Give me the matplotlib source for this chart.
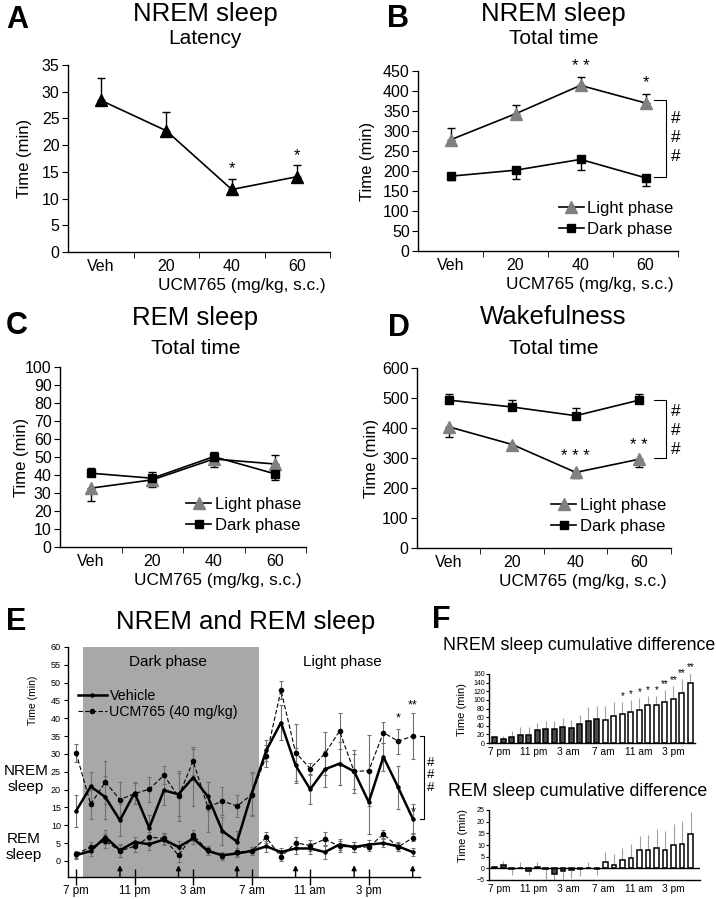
import numpy as np
import matplotlib
matplotlib.use('Agg')
import matplotlib.pyplot as plt

plt.rcParams['font.family'] = ['Liberation Sans', 'DejaVu Sans']
plt.rcParams['axes.linewidth'] = 1.0

W, H = 716, 899

# ---------------- data ----------------
doses = ['Veh', '20', '40', '60']

lat_mean = [28.4, 22.7, 11.7, 14.1]
lat_up = [4.2, 3.5, 2.0, 2.2]

nrem_light = [278, 343, 414, 370]
nrem_light_up = [30, 23, 21, 22]
nrem_dark = [187, 202, 229, 183]
nrem_dark_dn = [10, 23, 27, 21]

rem_light = [32.7, 37.3, 48.9, 46.1]
rem_light_dn = [7.4, 3.7, 4.3, 0]
rem_light_up = [0, 0, 0, 5.0]
rem_dark = [41.0, 38.2, 50.2, 40.6]
rem_dark_dn = [0, 0, 0, 3.3]
rem_dark_up = [3.1, 3.3, 2.8, 0]

wake_light = [404, 345, 252, 296]
wake_light_dn = [33, 16, 17, 25]
wake_dark = [493, 470, 441, 493]
wake_dark_up = [20, 23, 27, 22]

hour_labels = ['7 pm', '11 pm', '3 am', '7 am', '11 am', '3 pm']
injection_idx = [3, 7, 11, 15, 19, 23]

veh_nrem = [14.0, 20.9, 17.9, 11.4, 19.1, 9.3, 19.8, 18.7, 23.4, 18.1, 8.4, 5.4,
            18.9, 31.0, 38.8, 26.8, 20.1, 25.7, 27.3, 25.1, 16.5, 29.2, 20.7, 11.9]
veh_nrem_err = [4.5, 4, 6, 4.5, 3, 3.5, 4, 6, 8, 4, 4, 3,
                6, 3, 5, 5, 4, 5, 6, 6, 9, 4, 6, 4]
ucm_nrem = [30.3, 15.9, 22.1, 17.2, 18.9, 20.1, 24.0, 18.1, 28.0, 15.1, 16.8, 15.4,
            18.6, 29.4, 47.9, 30.4, 25.9, 30.1, 36.4, 25.1, 25.3, 36.0, 33.6, 35.0]
ucm_nrem_err = [2.5, 4, 6, 5, 3, 3.5, 2.5, 7, 4, 7, 4, 3,
                6, 3, 2.5, 8, 1.5, 6, 5, 5, 10, 3, 3.5, 6.5]
veh_rem = [1.6, 2.8, 6.7, 3.0, 5.3, 4.7, 6.0, 3.9, 6.3, 2.8, 1.6, 2.1,
           2.8, 4.1, 2.5, 3.5, 3.5, 2.5, 4.6, 3.9, 4.6, 5.0, 4.1, 2.5]
ucm_rem = [1.9, 3.9, 5.6, 2.8, 4.1, 6.7, 6.3, 1.6, 7.2, 3.0, 1.3, 2.5,
           2.8, 6.6, 1.1, 5.1, 4.3, 6.1, 4.1, 3.9, 3.9, 7.5, 3.9, 6.5]
rem_err = [1.0, 1.5, 2.0, 1.8, 1.5, 1.5, 1.5, 1.8, 1.5, 1.2, 1.0, 1.0,
           1.0, 1.5, 1.0, 1.5, 1.5, 2.0, 1.5, 1.5, 1.2, 1.2, 1.2, 1.0]

nrem_cum = [14, 9, 14, 19, 19, 29, 33, 33, 37, 34, 43, 52,
            55, 54, 62, 67, 72, 76, 87, 87, 96, 102, 115, 140]
nrem_cum_top = [17, 17, 27, 36, 37, 46, 52, 52, 58, 54, 65, 83,
                86, 86, 94, 95, 100, 104, 108, 108, 122, 132, 148, 162]
nrem_stars = ['', '', '', '', '', '', '', '', '', '', '', '',
              '', '', '', '*', '*', '*', '*', '*', '**', '**', '**', '**']
rem_cum = [0.4, 1.4, -0.2, 0.1, -1.3, 0.4, -0.3, -2.3, -1.2, -0.9, -0.5, 0.2,
           -0.4, 2.8, 1.3, 3.4, 4.6, 7.8, 7.7, 8.6, 7.9, 10.2, 10.4, 14.7]
rem_cum_err = [0.6, 1.6, 2.8, 2.4, 1.7, 2.4, 4.2, 3.2, 3.3, 3.1, 3.0, 2.5,
               2.6, 4.0, 4.7, 5.1, 5.9, 6.0, 6.5, 8.1, 7.9, 8.8, 9.9, 9.3]
n_dark_bars = 13

LIGHT = '#808080'

fig = plt.figure(figsize=(W / 100, H / 100), dpi=100)


def box(l, t, r, b):
    return fig.add_axes([l / W, 1 - b / H, (r - l) / W, (b - t) / H])


def ftext(x, y, s, **kw):
    fig.text(x / W, 1 - y / H, s, **kw)


def dose_axes(ax, ymax, ystep, ylab_px):
    ax.set_xlim(-0.5, 3.5)
    ax.set_ylim(0, ymax)
    ax.set_yticks(np.arange(0, ymax + 1, ystep))
    ax.set_xticks(range(4))
    ax.set_xticklabels(doses)
    ax.set_xticks([0.5, 1.5, 2.5, 3.5], minor=True)
    ax.tick_params(axis='x', which='major', length=0, labelsize=11.5, pad=5)
    ax.tick_params(axis='x', which='minor', length=4, direction='out')
    ax.tick_params(axis='y', length=4, labelsize=11.5, pad=2)
    for s in ['top', 'right']:
        ax.spines[s].set_visible(False)
    ax.annotate('UCM765 (mg/kg, s.c.)', xy=(1, 0), xycoords='axes fraction',
                xytext=(-3, -24), textcoords='offset points', ha='right', va='center',
                fontsize=12.4)
    ax.set_ylabel('Time (min)', fontsize=12)
    w = ax.get_position().width * W
    ax.yaxis.set_label_coords(-ylab_px / w, 0.5)


def two_lines(ax, light, l_dn, l_up, dark, d_dn, d_up):
    ax.errorbar(range(4), light, yerr=[l_dn, l_up], fmt='none', ecolor='k',
                elinewidth=1, capsize=3, capthick=1)
    ax.errorbar(range(4), dark, yerr=[d_dn, d_up], fmt='none', ecolor='k',
                elinewidth=1, capsize=3, capthick=1)
    ax.plot(range(4), light, '-', color='k', lw=1.2, marker='^', ms=9,
            mfc=LIGHT, mec=LIGHT, label='Light phase')
    ax.plot(range(4), dark, '-', color='k', lw=1.2, marker='s', ms=6,
            mfc='k', mec='k', label='Dark phase')
    ax.legend(loc='lower right', frameon=False, fontsize=12, handlelength=1.5,
              handletextpad=0.2, labelspacing=0.37, borderaxespad=0.2,
              bbox_to_anchor=(1.02, 0.022))


def bracket(ax, x0, x1, y0, y1, hx, hys):
    ax.plot([x0, x1, x1, x0], [y0, y0, y1, y1], color='k', lw=0.8, clip_on=False)
    for hy in hys:
        ax.text(hx, hy, '#', ha='center', va='center', fontsize=12.5, clip_on=False)


# ---------------- A ----------------
axA = box(68, 65, 330, 252)
axA.errorbar(range(4), lat_mean, yerr=[[0] * 4, lat_up], fmt='none', ecolor='k',
             elinewidth=1, capsize=3, capthick=1)
axA.plot(range(4), lat_mean, '-', color='k', lw=1.2, marker='^', ms=9)
dose_axes(axA, 35, 5, 36)
axA.text(2, 15.6, '*', ha='center', va='center', fontsize=12)
axA.text(3, 18.1, '*', ha='center', va='center', fontsize=12)
ftext(205, 14, 'NREM sleep', ha='center', va='center', fontsize=18.5)
ftext(205, 39, 'Latency', ha='center', va='center', fontsize=15)
ftext(17, 20, 'A', ha='center', va='center', fontsize=22, fontweight='bold')

# ---------------- B ----------------
axB = box(418, 71, 678, 251)
two_lines(axB, nrem_light, [0] * 4, nrem_light_up, nrem_dark, nrem_dark_dn, [0] * 4)
dose_axes(axB, 450, 50, 43)
axB.text(2, 462, '* *', ha='center', va='center', fontsize=12, clip_on=False)
axB.text(3, 420, '*', ha='center', va='center', fontsize=12)
bracket(axB, 3.13, 3.31, 377, 185, 3.46, [331, 283, 235])
ftext(553, 14, 'NREM sleep', ha='center', va='center', fontsize=18.5)
ftext(554, 39, 'Total time', ha='center', va='center', fontsize=15)
ftext(398, 19, 'B', ha='center', va='center', fontsize=22, fontweight='bold')

# ---------------- C ----------------
axC = box(60, 367, 306, 547)
two_lines(axC, rem_light, rem_light_dn, rem_light_up, rem_dark, rem_dark_dn, rem_dark_up)
dose_axes(axC, 100, 10, 31)
ftext(195, 318, 'REM sleep', ha='center', va='center', fontsize=18.5)
ftext(196, 348, 'Total time', ha='center', va='center', fontsize=15)
ftext(17, 326, 'C', ha='center', va='center', fontsize=22, fontweight='bold')

# ---------------- D ----------------
axD = box(417, 368, 671, 548)
two_lines(axD, wake_light, wake_light_dn, [0] * 4, wake_dark, [0] * 4, wake_dark_up)
dose_axes(axD, 600, 100, 38)
axD.text(2, 304, '* * *', ha='center', va='center', fontsize=12)
axD.text(3, 343, '* *', ha='center', va='center', fontsize=12)
bracket(axD, 3.23, 3.42, 495, 299, 3.58, [454, 393, 329])
ftext(553, 317, 'Wakefulness', ha='center', va='center', fontsize=18.5)
ftext(554, 348, 'Total time', ha='center', va='center', fontsize=15)
ftext(399, 328, 'D', ha='center', va='center', fontsize=22, fontweight='bold')

# ---------------- E ----------------
axE = box(68, 647, 420, 877)
hours = np.arange(len(veh_nrem))
axE.set_xlim(-0.55, 23.5)
axE.set_ylim(-4.5, 60)
axE.axvspan(0.48, 12.5, color='#a8a8a8', zorder=0, lw=0)
ek = dict(fmt='none', ecolor='#707070', elinewidth=0.8, capsize=1.5, capthick=0.8)
axE.errorbar(hours, veh_nrem, yerr=veh_nrem_err, **ek)
axE.errorbar(hours, ucm_nrem, yerr=ucm_nrem_err, **ek)
axE.errorbar(hours, veh_rem, yerr=rem_err, **ek)
axE.errorbar(hours, ucm_rem, yerr=rem_err, **ek)
axE.plot(hours, veh_nrem, '-', color='k', lw=1.8, marker='o', ms=2.2, label='Vehicle')
axE.plot(hours, ucm_nrem, '--', color='k', lw=0.8, marker='o', ms=3,
         dashes=(4, 2), label='UCM765 (40 mg/kg)')
axE.plot(hours, veh_rem, '-', color='k', lw=1.8, marker='o', ms=2.2)
axE.plot(hours, ucm_rem, '--', color='k', lw=0.8, marker='o', ms=3, dashes=(4, 2))
axE.legend(loc='upper left', bbox_to_anchor=(0.0, 0.86), frameon=False, fontsize=10.3,
           handlelength=2.0, handletextpad=0.2, labelspacing=0.1, borderaxespad=0.3)
axE.set_yticks(np.arange(0, 61, 5))
axE.set_xticks(hours[::4])
axE.set_xticklabels(hour_labels)
axE.tick_params(axis='y', length=3, labelsize=6.5, pad=2)
axE.tick_params(axis='x', direction='inout', length=12, width=1, labelsize=8.4, pad=0)
for s in ['top', 'right']:
    axE.spines[s].set_visible(False)
for i in injection_idx:
    axE.annotate('', xy=(i, -1.2), xytext=(i, -4.5),
                 arrowprops=dict(arrowstyle='-|>', color='k', lw=1, mutation_scale=7,
                                 shrinkA=0, shrinkB=0))
axE.text(6.3, 55.7, 'Dark phase', ha='center', va='center', fontsize=11)
axE.text(18.2, 55.7, 'Light phase', ha='center', va='center', fontsize=11)
axE.plot([23.5, 23.77, 23.77, 23.5], [35.0, 35.0, 11.9, 11.9], color='k', lw=0.8,
         clip_on=False)
for hy in [27.5, 24.1, 20.4]:
    axE.text(24.25, hy, '#', ha='center', va='center', fontsize=9.5, clip_on=False)
axE.text(22, 40.0, '*', ha='center', va='center', fontsize=9)
axE.text(23, 43.6, '**', ha='center', va='center', fontsize=9, clip_on=False)
axE.text(23, 13.5, '*', ha='center', va='center', fontsize=9, clip_on=False)
ftext(246, 622, 'NREM and REM sleep', ha='center', va='center', fontsize=18.5)
ftext(16, 622, 'E', ha='center', va='center', fontsize=22, fontweight='bold')
ftext(33, 700, 'Time (min)', ha='center', va='center', rotation=90, fontsize=7.5)
ftext(26, 779, 'NREM\nsleep', ha='center', va='center', fontsize=11, linespacing=1.15)
ftext(24, 847, 'REM\nsleep', ha='center', va='center', fontsize=11, linespacing=1.15)

# ---------------- F ----------------
bar_x = np.arange(len(nrem_cum))
bar_colors = ['#4a4a4a' if i < n_dark_bars else 'white' for i in bar_x]
flab_x = np.arange(len(hour_labels)) * 4.1 + 0.5

axF1 = box(489, 674, 695, 743)
nrem_up = [t - v for t, v in zip(nrem_cum_top, nrem_cum)]
axF1.errorbar(bar_x, nrem_cum, yerr=[[0] * len(bar_x), nrem_up], fmt='none',
              ecolor='#a0a0a0', elinewidth=0.8, capsize=0, zorder=1)
axF1.bar(bar_x, nrem_cum, width=0.55, color=bar_colors, edgecolor='k', linewidth=1.1,
         zorder=2)
for i, s in enumerate(nrem_stars):
    if s:
        axF1.text(i, nrem_cum_top[i] + 14, s, ha='center', va='center', fontsize=7,
                  clip_on=False)
axF1.set_xlim(-0.67, 23.55)
axF1.set_ylim(0, 160)
axF1.set_yticks(np.arange(0, 161, 20))
axF1.set_xticks(flab_x)
axF1.set_xticklabels(hour_labels)
axF1.tick_params(axis='x', length=0, labelsize=7.3, pad=3)
axF1.tick_params(axis='y', length=2, labelsize=5, pad=1)
for s in ['top', 'right']:
    axF1.spines[s].set_visible(False)
ftext(579, 645, 'NREM sleep cumulative difference', ha='center', va='center',
      fontsize=12.8)
ftext(441, 620, 'F', ha='center', va='center', fontsize=22, fontweight='bold')
ftext(462, 710, 'Time (min)', ha='center', va='center', rotation=90, fontsize=8)

axF2 = box(489, 810, 700, 880)
rem_lo = [e if v < 0 else 0 for v, e in zip(rem_cum, rem_cum_err)]
rem_hi = [e if v >= 0 else 0 for v, e in zip(rem_cum, rem_cum_err)]
axF2.errorbar(bar_x, rem_cum, yerr=[rem_lo, rem_hi], fmt='none', ecolor='#a0a0a0',
              elinewidth=0.8, capsize=0, zorder=1)
axF2.bar(bar_x, rem_cum, width=0.55, color=bar_colors, edgecolor='k', linewidth=1.1,
         zorder=2)
axF2.axhline(0, color='k', lw=1.0, zorder=3)
axF2.set_xlim(-0.67, 24.1)
axF2.set_ylim(-5, 25)
axF2.set_yticks(np.arange(-5, 26, 5))
axF2.set_xticks(flab_x)
axF2.set_xticklabels(hour_labels)
axF2.tick_params(axis='x', length=0, labelsize=7.3, pad=3)
axF2.tick_params(axis='y', length=2, labelsize=5, pad=1)
for s in ['top', 'right']:
    axF2.spines[s].set_visible(False)
ftext(578, 792, 'REM sleep cumulative difference', ha='center', va='center',
      fontsize=12.8)
ftext(463, 835, 'Time (min)', ha='center', va='center', rotation=90, fontsize=8)

fig.savefig('out.png', dpi=100)
